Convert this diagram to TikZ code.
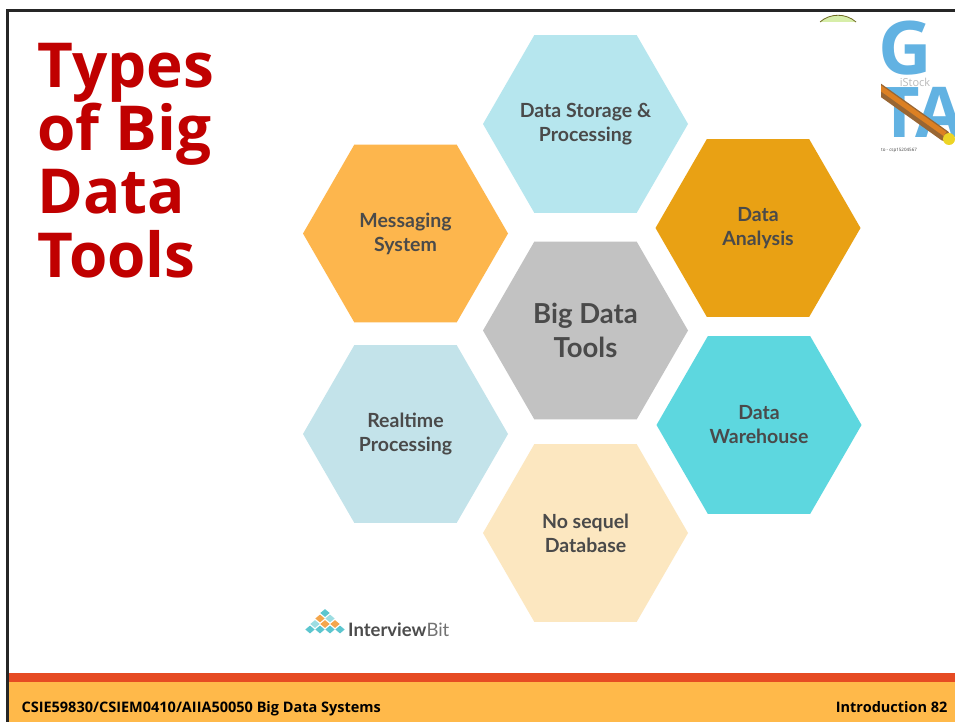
\documentclass[tikz,border=0pt]{standalone}
\usepackage{fontspec}
\usepackage{xcolor}
\usepackage{tikz}
\usetikzlibrary{shapes.geometric}

\newfontfamily\titlefont{Open Sans}
\newfontfamily\hexfont{Lato}

\definecolor{titlered}{HTML}{C00000}
\definecolor{hextext}{HTML}{4A4A4A}
\definecolor{storagecol}{HTML}{B6E6EE}
\definecolor{analysiscol}{HTML}{E9A114}
\definecolor{warehousecol}{HTML}{5DD7DF}
\definecolor{nosqlcol}{HTML}{FCE7C0}
\definecolor{realtimecol}{HTML}{C3E3EA}
\definecolor{messagingcol}{HTML}{FDB64D}
\definecolor{centercol}{HTML}{C2C2C2}
\definecolor{footred}{HTML}{E64B23}
\definecolor{footyellow}{HTML}{FFB94A}
\definecolor{logoteal}{HTML}{5CC6CF}
\definecolor{logoorange}{HTML}{F4A64C}
\definecolor{letterblue}{HTML}{62B2E2}

\begin{document}
\begin{tikzpicture}[x=1pt, y=-1pt,
    hex/.style={regular polygon, regular polygon sides=6, minimum size=205pt, inner sep=0pt},
    hexlabel/.style={align=center, inner sep=0pt, text=hextext, font=\hexfont\bfseries\fontsize{19.5}{24}\selectfont},
    titleline/.style={anchor=base west, text=titlered, font=\titlefont\bfseries\fontsize{62}{63}\selectfont},
    foottext/.style={anchor=base, text=black, font=\titlefont\bfseries\fontsize{14.5}{16}\selectfont},
    logodia/.style={diamond, inner sep=0pt, minimum width=9.5pt, minimum height=8pt},
    photoletter/.style={inner sep=0pt, text=letterblue, font=\titlefont\bfseries\fontsize{74}{74}\selectfont}]

    \useasboundingbox (0,0) rectangle (955,722);
    \fill[white] (0,0) rectangle (955,722);

    % footer bar
    \fill[footred] (6,673) rectangle (955,682);
    \fill[footyellow] (6,682) rectangle (955,722);
    \node[foottext, anchor=base west] (course) at (18,712) {CSIE59830/CSIEM0410/AIIA50050 Big Data Systems};
    \node[foottext, anchor=base east] (pageno) at (951,712) {Introduction 82};

    % slide frame
    \draw[line width=2.5pt, color=black!85] (7.5,722) -- (7.5,10.5) -- (955,10.5);

    % title
    \node[titleline] (title1) at (34,88) {Types};
    \node[titleline] (title2) at (34,151) {of Big};
    \node[titleline] (title3) at (34,214) {Data};
    \node[titleline] (title4) at (34,277) {Tools};

    % honeycomb of tool types
    \node[hex, fill=centercol] (center) at (585.5,330.5) {};
    \node[hex, fill=storagecol] (storage) at (585.5,124) {};
    \node[hex, fill=analysiscol] (analysis) at (758,228) {};
    \node[hex, fill=warehousecol] (warehouse) at (759,425) {};
    \node[hex, fill=nosqlcol] (nosql) at (585.5,533) {};
    \node[hex, fill=realtimecol] (realtime) at (405.5,434) {};
    \node[hex, fill=messagingcol] (messaging) at (405.5,233.5) {};

    \node[hexlabel, font=\hexfont\bfseries\fontsize{27.5}{34}\selectfont] (centertext) at (center) {Big Data\\Tools};
    \node[hexlabel] (storagetext) at (storage) {Data Storage \&\\Processing};
    \node[hexlabel] (analysistext) at (analysis) {Data\\Analysis};
    \node[hexlabel] (warehousetext) at (warehouse) {Data\\Warehouse};
    \node[hexlabel] (nosqltext) at (nosql) {No sequel\\Database};
    \node[hexlabel] (realtimetext) at (realtime) {Realtime\\Processing};
    \node[hexlabel] (messagingtext) at (messaging) {Messaging\\System};

    % InterviewBit logo
    \node[logodia, fill=logoteal] (d1) at (325,613) {};
    \node[logodia, fill=logoorange] (d2) at (320,618.5) {};
    \node[logodia, fill=logoteal!60] (d3) at (330,618.5) {};
    \node[logodia, fill=logoteal!60] (d4) at (315,624) {};
    \node[logodia, fill=logoorange] (d5) at (325,624) {};
    \node[logodia, fill=logoorange] (d6) at (335,624) {};
    \node[logodia, fill=logoteal] (d7) at (310,629.5) {};
    \node[logodia, fill=logoteal] (d8) at (320,629.5) {};
    \node[logodia, fill=logoteal] (d9) at (330,629.5) {};
    \node[logodia, fill=logoteal] (d10) at (340,629.5) {};
    \node[anchor=base west, inner sep=0pt, font=\hexfont\fontsize{18.5}{20}\selectfont] (brand) at (348,636)
        {\textcolor{black!70}{\bfseries Interview}\textcolor{black!55}{Bit}};

    % stock photo in the corner
    \draw[fill=yellow!55!green!35, draw=olive!70!black, line width=0.8pt]
        (820,22) .. controls (830,13) and (846,13) .. (856,22);
    \begin{scope}
        \clip (881,12) rectangle (955,145);
        \node[photoletter, anchor=base west] (bigg) at (878,75) {G};
        \node[photoletter, anchor=base east, font=\titlefont\bfseries\fontsize{70}{70}\selectfont] (bigta) at (964,138) {TA};
        \node[inner sep=0pt, text=black!45, opacity=0.6, font=\titlefont\fontsize{11}{11}\selectfont] (wmark) at (915,82) {iStock};
        \draw[line width=11pt, color=brown!80!black, line cap=round] (872,84) -- (945,136);
        \draw[line width=5pt, color=brown!55!orange] (872,82) -- (945,134);
        \fill[yellow!70!brown] (949,139) circle (6);
    \end{scope}
    \node[anchor=west, inner sep=0pt, text=black!75, font=\titlefont\fontsize{4.5}{5}\selectfont] (caption) at (881,150) {to - csp15204567};
\end{tikzpicture}
\end{document}
